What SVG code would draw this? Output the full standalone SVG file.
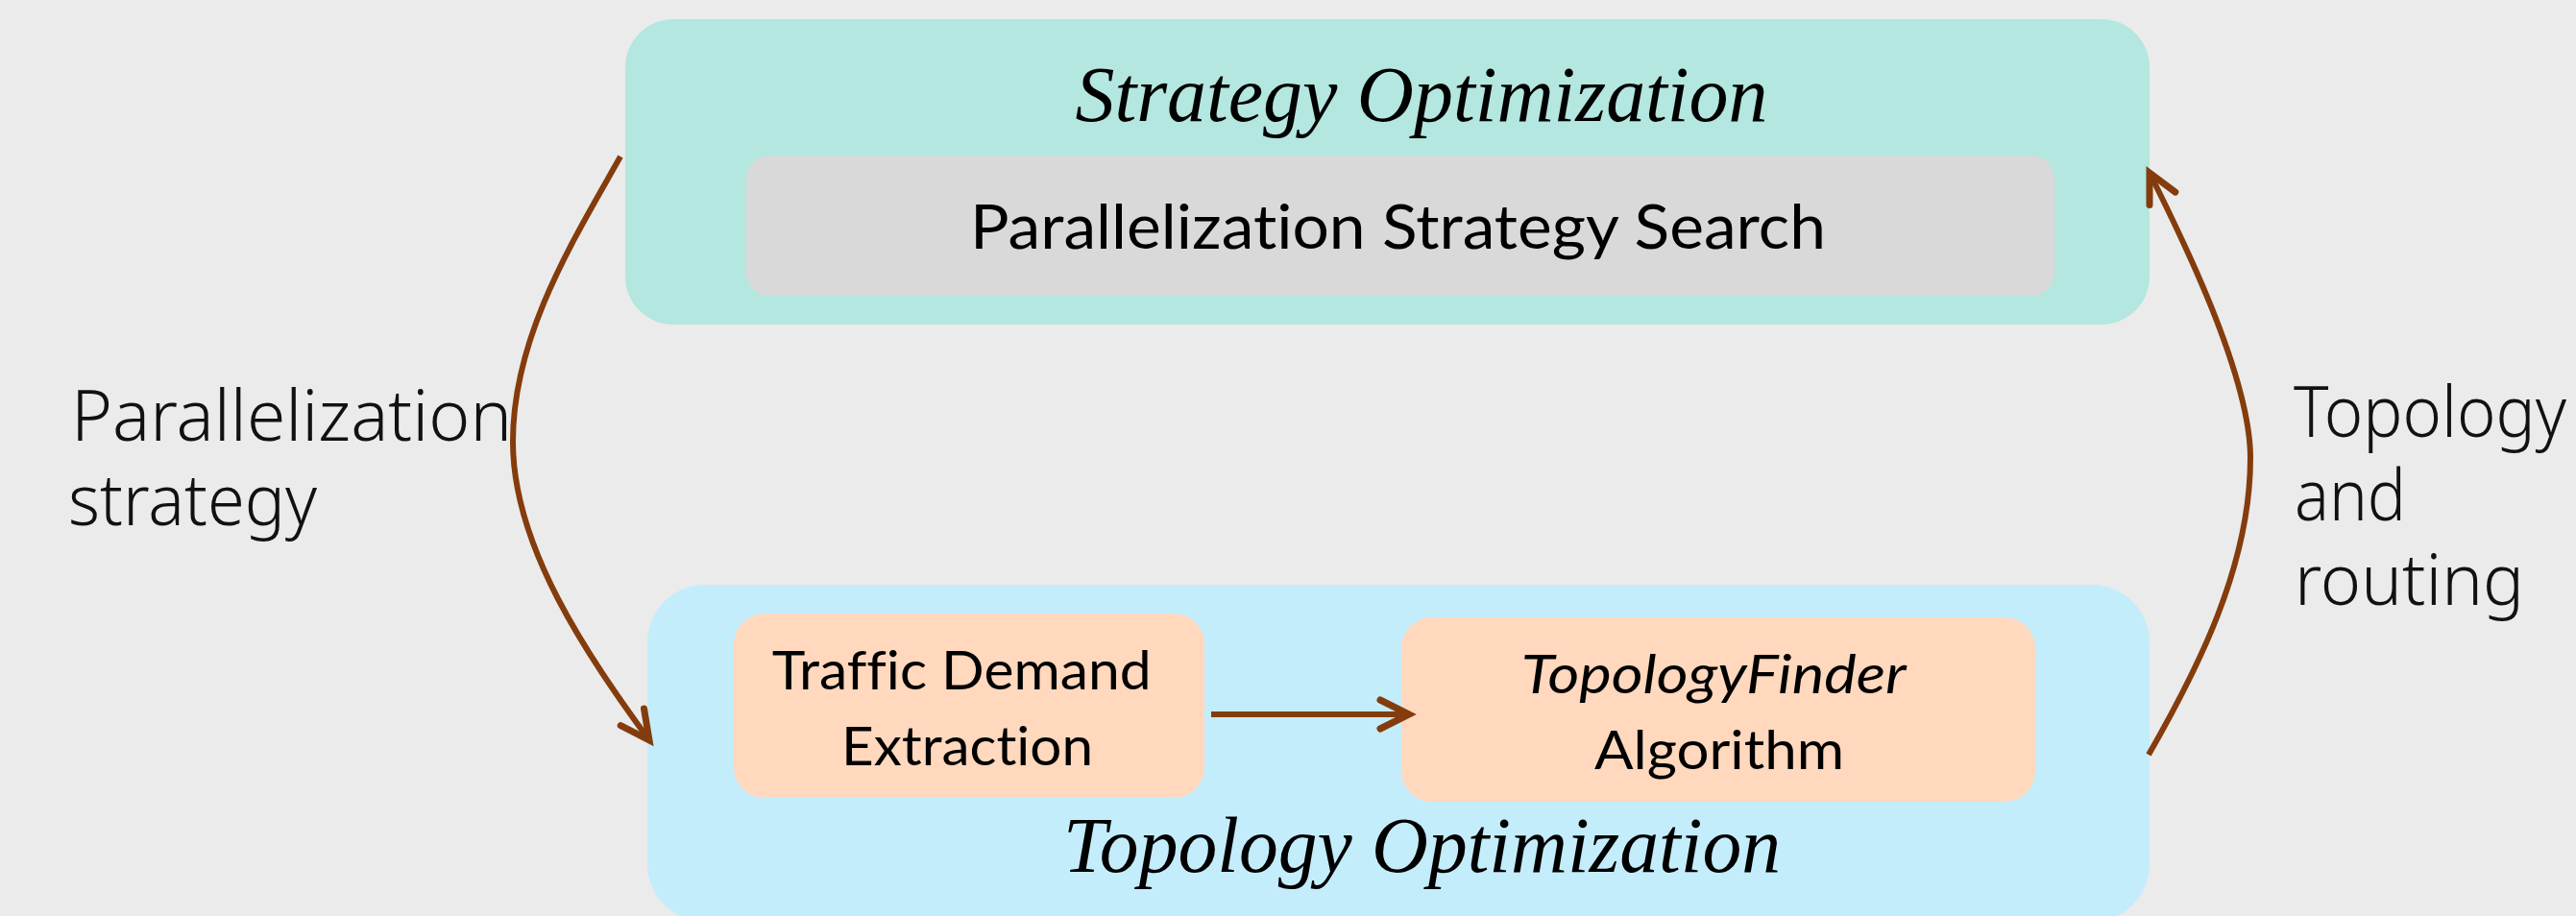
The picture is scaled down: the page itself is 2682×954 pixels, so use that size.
<svg xmlns="http://www.w3.org/2000/svg" width="2682" height="954" viewBox="0 0 2682 954">
  <defs>
    <marker id="chev" markerUnits="userSpaceOnUse" markerWidth="80" markerHeight="80" viewBox="-40 -40 80 80" refX="0" refY="0" orient="auto" overflow="visible">
      <path d="M-30,-15 L0,0 L-30,15" fill="none" stroke="#843C0C" stroke-width="7" stroke-linecap="round" stroke-linejoin="miter"/>
    </marker>
    <style>
      .title { font-family: "Liberation Serif", "Times New Roman", serif; font-style: italic; font-size: 82px; fill: #000; }
      .inner { font-family: Lato, "Open Sans", sans-serif; fill: #000; font-variant-ligatures: none; }
      .side { font-family: "Noto Sans", "Open Sans", sans-serif; font-weight: 300; font-size: 74px; fill: #111; }
      .conn { fill: none; stroke: #843C0C; stroke-width: 6; marker-end: url(#chev); }
    </style>
  </defs>
  <rect x="0" y="0" width="2682" height="954" fill="#EBEBEB"/>

  <g id="strategy-optimization">
    <rect x="651" y="20" width="1587" height="318" rx="50" ry="50" fill="#B3E7DF"/>
    <text class="title" x="1480" y="126" text-anchor="middle" textLength="721" lengthAdjust="spacingAndGlyphs">Strategy Optimization</text>
  </g>

  <g id="parallelization-strategy-search">
    <rect x="777" y="162" width="1362" height="146" rx="24" ry="24" fill="#D9D9D9"/>
    <text class="inner" x="1455.5" y="259" font-size="64" text-anchor="middle" textLength="891" lengthAdjust="spacingAndGlyphs">Parallelization Strategy Search</text>
  </g>

  <g id="topology-optimization">
    <rect x="674" y="609" width="1564" height="351" rx="60" ry="60" fill="#C4EDFC"/>
    <text class="title" x="1480.5" y="908" text-anchor="middle" textLength="747" lengthAdjust="spacingAndGlyphs">Topology Optimization</text>
  </g>

  <g id="traffic-demand-extraction">
    <rect x="764" y="639" width="490" height="192" rx="32" ry="32" fill="#FFD8BD"/>
    <text class="inner" font-size="57" text-anchor="middle">
      <tspan x="1008.5" y="718" textLength="395" lengthAdjust="spacingAndGlyphs">Traffic Demand</tspan>
      <tspan x="1007" y="797" textLength="262" lengthAdjust="spacingAndGlyphs">Extraction</tspan>
    </text>
  </g>

  <g id="topologyfinder-algorithm">
    <rect x="1459" y="643" width="660" height="192" rx="32" ry="32" fill="#FFD8BD"/>
    <text class="inner" font-size="57" text-anchor="middle">
      <tspan x="1791.5" y="722" font-style="italic" textLength="401" lengthAdjust="spacingAndGlyphs">TopologyFinder</tspan>
      <tspan x="1790" y="801" textLength="260" lengthAdjust="spacingAndGlyphs">Algorithm</tspan>
    </text>
  </g>

  <g id="label-parallelization-strategy">
    <text class="side">
      <tspan x="74" y="459" textLength="459" lengthAdjust="spacingAndGlyphs">Parallelization</tspan>
      <tspan x="71" y="547" textLength="259" lengthAdjust="spacingAndGlyphs">strategy</tspan>
    </text>
  </g>

  <g id="label-topology-routing">
    <text class="side">
      <tspan x="2388" y="455" textLength="284" lengthAdjust="spacingAndGlyphs">Topology</tspan>
      <tspan x="2389" y="542" textLength="116" lengthAdjust="spacingAndGlyphs">and</tspan>
      <tspan x="2389" y="630" textLength="239" lengthAdjust="spacingAndGlyphs">routing</tspan>
    </text>
  </g>

  <g id="connectors">
    <path class="conn" d="M646,163 C597,250 534,350 534,460 C534,570 612,683 676,771"/>
    <path class="conn" d="M2237,786 C2287,699 2343,590 2343,477 C2343,390 2268,240 2238,180"/>
    <path class="conn" d="M1261,744 L1467,744"/>
  </g>
</svg>
